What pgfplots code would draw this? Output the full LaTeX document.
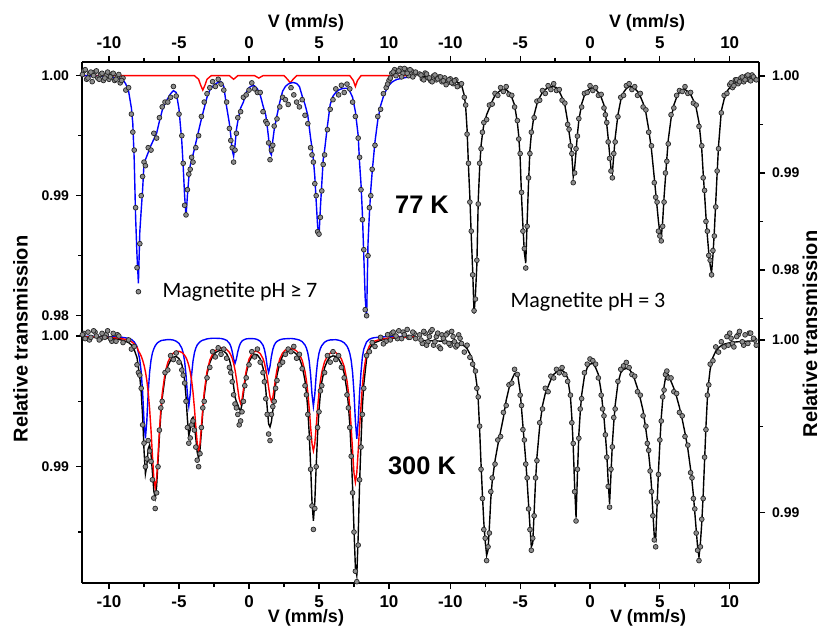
\documentclass[border=0pt]{standalone}
\usepackage{fontspec}
\setmainfont{Liberation Sans}
\newfontfamily\carlito{Carlito}
\usepackage{pgfplots}
\usepackage{pgfplotstable}
\pgfplotsset{compat=1.18}

\pgfplotstableread{
v fit data
-11.8 1.0000 1.0004
-11.6 1.0000 0.9997
-11.4 1.0000 1.0002
-11.2 0.99995 0.9995
-11.0 0.99995 1.0003
-10.8 0.99995 0.9998
-10.6 0.99995 1.0001
-10.4 0.9999 0.9996
-10.2 0.9999 1.0000
-10.0 0.9999 0.9997
-9.8 0.99985 1.0001
-9.6 0.99985 0.9996
-9.4 0.9998 0.9999
-9.2 0.99975 0.9994
-9.0 0.99965 0.9998
-8.8 0.9993 0.9988
-8.6 0.9987 0.9990
-8.4 0.9973 0.9968
-8.3 0.9960 0.9953
-8.2 0.9930 0.9938
-8.1 0.9882 0.9890
-8.0 0.9850 0.9840
-7.9 0.9827 0.9820
-7.8 0.9870 0.9860
-7.7 0.9888 0.9900
-7.6 0.9905 0.9916
-7.5 0.9927 0.9928
-7.4 0.9930 0.9925
-7.2 0.9936 0.9940
-7.0 0.9942 0.9938
-6.8 0.9947 0.9952
-6.6 0.9952 0.9948
-6.4 0.9962 0.9965
-6.2 0.9971 0.9974
-6.0 0.9977 0.9978
-5.8 0.9981 0.9978
-5.6 0.9985 0.9982
-5.4 0.99875 0.9991
-5.2 0.9986 0.9983
-5.0 0.9972 0.9968
-4.8 0.9945 0.9950
-4.7 0.9924 0.9927
-4.6 0.9900 0.9892
-4.5 0.9883 0.9884
-4.4 0.9900 0.9905
-4.3 0.9915 0.9918
-4.2 0.9925 0.9922
-4.1 0.9930 0.9932
-4.0 0.9934 0.9928
-3.8 0.9944 0.9940
-3.6 0.9954 0.9950
-3.4 0.9964 0.9966
-3.2 0.9973 0.9978
-3.0 0.9982 0.9985
-2.8 0.9988 0.9990
-2.6 0.9991 0.9995
-2.4 0.9993 0.9991
-2.2 0.99945 0.9997
-2.0 0.9995 0.9993
-1.8 0.9991 0.9988
-1.6 0.9974 0.9978
-1.4 0.9960 0.9956
-1.3 0.9950 0.9946
-1.2 0.9938 0.9940
-1.1 0.9933 0.9928
-1.0 0.9942 0.9938
-0.9 0.9955 0.9952
-0.8 0.9962 0.9965
-0.6 0.9973 0.9970
-0.4 0.9978 0.9982
-0.2 0.9986 0.9984
0.0 0.9990 0.9988
0.2 0.99915 0.9994
0.4 0.99915 0.9989
0.6 0.9989 0.9986
0.8 0.9984 0.9986
1.0 0.9975 0.9970
1.2 0.9967 0.9962
1.3 0.9958 0.9960
1.4 0.9948 0.9944
1.5 0.9936 0.9930
1.6 0.9934 0.9938
1.7 0.9946 0.9942
1.8 0.9955 0.9958
2.0 0.9967 0.9964
2.2 0.9978 0.9974
2.4 0.9987 0.9982
2.6 0.9991 0.9980
2.8 0.9993 0.9976
3.0 0.9994 0.9990
3.2 0.99942 0.9984
3.4 0.99935 0.9978
3.6 0.9991 0.9974
3.8 0.9983 0.9980
4.0 0.9976 0.9967
4.2 0.9967 0.9960
4.4 0.9948 0.9940
4.5 0.9940 0.9934
4.6 0.9930 0.9928
4.7 0.9916 0.9910
4.8 0.9895 0.9900
4.9 0.9875 0.9870
5.0 0.9866 0.9868
5.1 0.9890 0.9882
5.2 0.9910 0.9904
5.3 0.9930 0.9926
5.4 0.9938 0.9934
5.6 0.9958 0.9955
5.8 0.9976 0.9972
6.0 0.9983 0.9980
6.2 0.9986 0.9989
6.4 0.9988 0.9984
6.6 0.9989 0.9992
6.8 0.99895 0.9986
7.0 0.99895 0.9993
7.2 0.9987 0.9989
7.4 0.9982 0.9978
7.6 0.9970 0.9966
7.8 0.9950 0.9948
7.9 0.9927 0.9932
8.0 0.9910 0.9905
8.1 0.9885 0.9880
8.2 0.9850 0.9855
8.3 0.9815 0.9805
8.4 0.9798 0.9800
8.5 0.9860 0.9850
8.6 0.9885 0.9890
8.7 0.9905 0.9900
8.8 0.9920 0.9922
9.0 0.9945 0.9942
9.2 0.9963 0.9966
9.4 0.9975 0.9972
9.6 0.99825 0.9985
9.8 0.9988 0.9990
10.0 0.9992 0.9996
10.2 0.99945 1.0002
10.4 0.9996 1.0005
10.6 0.9997 1.0003
10.8 0.99975 1.0006
11.0 0.9998 1.0002
11.2 0.99985 1.0005
11.4 0.99985 1.0000
11.6 0.9999 1.0004
11.8 0.9999 1.0001
}\TLtab

\pgfplotstableread{
v data
-11.9 1.0001
-11.7 1.0005
-11.5 0.9998
-11.3 1.0003
-11.1 1.0000
-10.9 1.0004
-10.7 0.9997
-10.5 1.0002
-10.3 0.9998
-10.1 1.0003
-9.9 0.9999
-9.7 1.0002
-9.5 0.9997
-9.3 1.0001
-9.1 0.9996
9.9 0.9993
10.1 0.9998
10.3 1.0003
10.5 1.0000
10.7 1.0004
10.9 0.9999
11.1 1.0006
11.3 1.0002
11.5 1.0005
11.7 0.9999
11.9 1.0003
}\TLextra

\pgfplotstableread{
v fit data
-12.2 0.9999 1.0002
-12.0 0.9999 0.9997
-11.8 0.9999 1.0003
-11.6 0.9999 0.9998
-11.4 0.99985 0.9995
-11.2 0.99985 1.0000
-11.0 0.9998 0.9996
-10.8 0.9998 0.9999
-10.6 0.99975 0.9994
-10.4 0.9997 0.9998
-10.2 0.99965 0.9993
-10.0 0.9996 0.9997
-9.8 0.9995 0.9992
-9.6 0.9994 0.9996
-9.4 0.9993 0.9990
-9.2 0.9991 0.9992
-9.0 0.9980 0.9978
-8.9 0.9968 0.9970
-8.8 0.9945 0.9940
-8.7 0.9907 0.9910
-8.6 0.9875 0.9870
-8.5 0.9835 0.9840
-8.4 0.9800 0.9795
-8.3 0.9755 0.9758
-8.2 0.9775 0.9770
-8.1 0.9805 0.9810
-8.0 0.9872 0.9868
-7.9 0.9905 0.9910
-7.8 0.9928 0.9925
-7.7 0.9940 0.9942
-7.6 0.9950 0.9952
-7.4 0.9960 0.9955
-7.2 0.9967 0.9970
-7.0 0.9974 0.9971
-6.8 0.9980 0.9982
-6.6 0.9983 0.9980
-6.4 0.9985 0.9988
-6.2 0.9986 0.9984
-6.0 0.9986 0.9989
-5.8 0.9983 0.9981
-5.6 0.9978 0.9980
-5.4 0.9970 0.9968
-5.2 0.9952 0.9954
-5.1 0.9938 0.9935
-5.0 0.9915 0.9920
-4.9 0.9875 0.9880
-4.8 0.9845 0.9840
-4.7 0.9818 0.9822
-4.6 0.9807 0.9802
-4.5 0.9850 0.9845
-4.4 0.9890 0.9895
-4.3 0.9924 0.9920
-4.2 0.9940 0.9942
-4.0 0.9960 0.9957
-3.8 0.9971 0.9974
-3.6 0.9978 0.9975
-3.4 0.9983 0.9985
-3.2 0.9986 0.9982
-3.0 0.9988 0.9990
-2.8 0.9989 0.9986
-2.6 0.9989 0.9992
-2.4 0.9988 0.9985
-2.2 0.9984 0.9986
-2.0 0.9978 0.9975
-1.8 0.9970 0.9972
-1.6 0.9953 0.9950
-1.5 0.9942 0.9945
-1.4 0.9932 0.9928
-1.3 0.9918 0.9920
-1.2 0.9896 0.9890
-1.1 0.9905 0.9900
-1.0 0.9922 0.9925
-0.9 0.9940 0.9938
-0.8 0.9954 0.9956
-0.6 0.9971 0.9968
-0.4 0.9980 0.9982
-0.2 0.9985 0.9983
0.0 0.9987 0.9990
0.2 0.99875 0.9985
0.4 0.9986 0.9988
0.6 0.9983 0.9980
0.8 0.9978 0.9981
1.0 0.9970 0.9967
1.1 0.9962 0.9960
1.2 0.9950 0.9952
1.3 0.9936 0.9932
1.4 0.9920 0.9915
1.5 0.9905 0.9902
1.6 0.9900 0.9895
1.7 0.9918 0.9920
1.8 0.9936 0.9932
2.0 0.9960 0.9958
2.2 0.9975 0.9978
2.4 0.9983 0.9980
2.6 0.9987 0.9990
2.8 0.9989 0.9992
3.0 0.9989 0.9986
3.2 0.9987 0.9989
3.4 0.9984 0.9980
3.6 0.9979 0.9982
3.8 0.9972 0.9968
4.0 0.9962 0.9965
4.2 0.9945 0.9942
4.4 0.9924 0.9928
4.6 0.9895 0.9890
4.7 0.9880 0.9875
4.8 0.9865 0.9870
4.9 0.9850 0.9840
5.0 0.9838 0.9835
5.1 0.9833 0.9830
5.2 0.9850 0.9845
5.3 0.9875 0.9870
5.4 0.9895 0.9900
5.5 0.9915 0.9912
5.6 0.9934 0.9930
5.8 0.9956 0.9960
6.0 0.9970 0.9967
6.2 0.9978 0.9980
6.4 0.9983 0.9985
6.6 0.9986 0.9984
6.8 0.9986 0.9989
7.0 0.9984 0.9982
7.2 0.9981 0.9983
7.4 0.9975 0.9972
7.6 0.9967 0.9970
7.8 0.9952 0.9948
8.0 0.9924 0.9928
8.1 0.9900 0.9895
8.2 0.9878 0.9882
8.3 0.9855 0.9850
8.4 0.9835 0.9840
8.5 0.9818 0.9815
8.6 0.9805 0.9810
8.7 0.9797 0.9795
8.8 0.9815 0.9820
8.9 0.9840 0.9835
9.0 0.9870 0.9865
9.1 0.9900 0.9902
9.2 0.9928 0.9925
9.4 0.9964 0.9962
9.6 0.9976 0.9980
9.8 0.9984 0.9982
10.0 0.9988 0.9991
10.2 0.9991 0.9988
10.4 0.9993 0.9996
10.6 0.99945 0.9992
10.8 0.99955 0.9998
11.0 0.99965 0.9994
11.2 0.9997 1.0000
11.4 0.99975 0.9996
11.6 0.9998 1.0001
11.8 0.9998 0.9997
}\TRtab

\pgfplotstableread{
v data
-12.1 1.0001
-11.9 0.9996
-11.7 1.0002
-11.5 0.9998
-11.3 0.9994
-11.1 1.0001
-10.9 0.9997
-10.7 0.9999
-10.5 0.9995
-10.3 0.9991
-10.1 0.9996
-9.9 0.9993
-9.7 0.9995
-9.5 0.9989
10.1 0.9993
10.3 0.9990
10.5 0.9996
10.7 0.9994
10.9 0.9999
11.1 0.9996
11.3 1.0001
11.5 0.9995
11.7 0.9999
11.9 0.9996
}\TRextra

\pgfplotstableread{
v fit red blue data
-11.8 0.99993 0.99995 0.99998 1.0002
-11.4 0.99991 0.99994 0.99997 0.9997
-11.0 0.99990 0.99993 0.99997 1.0003
-10.6 0.99988 0.99992 0.99996 0.9998
-10.2 0.99985 0.99990 0.99995 1.0001
-9.8 0.99982 0.99988 0.99994 0.9996
-9.4 0.99976 0.99984 0.99992 1.0001
-9.0 0.99967 0.99978 0.99989 0.9995
-8.6 0.99950 0.99968 0.99982 0.9997
-8.4 0.99931 0.99957 0.99974 0.9990
-8.2 0.99895 0.99940 0.99955 0.9992
-8.0 0.99835 0.99915 0.99920 0.9978
-7.9 0.99757 0.99886 0.99871 0.9972
-7.8 0.99684 0.99868 0.99816 0.9970
-7.7 0.99570 0.99846 0.99724 0.9960
-7.6 0.99386 0.99816 0.99570 0.9932
-7.5 0.99128 0.99778 0.99350 0.9918
-7.4 0.98945 0.99728 0.99217 0.9900
-7.3 0.99010 0.99661 0.99349 0.9906
-7.2 0.99138 0.99569 0.99569 0.9920
-7.1 0.99167 0.99444 0.99723 0.9912
-7.0 0.99096 0.99281 0.99815 0.9904
-6.9 0.98959 0.99089 0.99870 0.9890
-6.8 0.98815 0.98913 0.99902 0.9876
-6.7 0.98763 0.98838 0.99925 0.9868
-6.6 0.98850 0.98910 0.99940 0.9880
-6.5 0.99036 0.99085 0.99951 0.9900
-6.4 0.99232 0.99274 0.99958 0.9928
-6.3 0.99400 0.99436 0.99964 0.9945
-6.2 0.99526 0.99559 0.99967 0.9950
-6.0 0.99684 0.99714 0.99970 0.9972
-5.8 0.99770 0.99798 0.99973 0.9974
-5.6 0.99815 0.99844 0.99972 0.9985
-5.4 0.99838 0.99869 0.99969 0.9982
-5.2 0.99843 0.99883 0.99960 0.9987
-5.0 0.99827 0.99883 0.99944 0.9980
-4.8 0.99782 0.99875 0.99907 0.9974
-4.7 0.99735 0.99865 0.99870 0.9970
-4.6 0.99659 0.99852 0.99807 0.9964
-4.5 0.99538 0.99835 0.99703 0.9950
-4.4 0.99364 0.99809 0.99555 0.9930
-4.3 0.99238 0.99774 0.99464 0.9918
-4.2 0.99281 0.99726 0.99555 0.9922
-4.1 0.99364 0.99660 0.99704 0.9932
-4.0 0.99378 0.99570 0.99808 0.9935
-3.9 0.99321 0.99450 0.99871 0.9928
-3.8 0.99217 0.99309 0.99908 0.9915
-3.7 0.99111 0.99180 0.99931 0.9905
-3.6 0.99066 0.99121 0.99945 0.9900
-3.5 0.99132 0.99176 0.99956 0.9910
-3.4 0.99269 0.99306 0.99963 0.9930
-3.3 0.99416 0.99448 0.99968 0.9945
-3.2 0.99541 0.99570 0.99971 0.9950
-3.0 0.99707 0.99729 0.99978 0.9968
-2.8 0.99796 0.99815 0.99981 0.9976
-2.6 0.99845 0.99862 0.99983 0.9988
-2.4 0.99872 0.99889 0.99983 0.9984
-2.2 0.99885 0.99903 0.99982 0.9991
-2.0 0.99890 0.99909 0.99981 0.9986
-1.8 0.99883 0.99907 0.99976 0.9990
-1.6 0.99865 0.99898 0.99967 0.9983
-1.4 0.99820 0.99875 0.99945 0.9976
-1.3 0.99776 0.99855 0.99921 0.9972
-1.2 0.99711 0.99829 0.99882 0.9965
-1.1 0.99617 0.99792 0.99825 0.9955
-1.0 0.99532 0.99741 0.99791 0.9948
-0.9 0.99499 0.99674 0.99825 0.9945
-0.8 0.99474 0.99594 0.99880 0.9940
-0.7 0.99441 0.99521 0.99920 0.9932
-0.6 0.99431 0.99484 0.99947 0.9935
-0.5 0.99476 0.99515 0.99961 0.9942
-0.4 0.99557 0.99588 0.99969 0.9950
-0.3 0.99641 0.99667 0.99974 0.9962
-0.2 0.99712 0.99734 0.99978 0.9968
0.0 0.99802 0.99822 0.99980 0.9978
0.2 0.99844 0.99864 0.99980 0.9988
0.4 0.99861 0.99882 0.99979 0.9984
0.6 0.99855 0.99882 0.99973 0.9990
0.8 0.99826 0.99866 0.99960 0.9980
1.0 0.99757 0.99827 0.99930 0.9972
1.1 0.99692 0.99794 0.99898 0.9965
1.2 0.99590 0.99745 0.99845 0.9952
1.3 0.99451 0.99682 0.99769 0.9940
1.4 0.99328 0.99606 0.99722 0.9925
1.5 0.99304 0.99536 0.99768 0.9920
1.6 0.99344 0.99500 0.99844 0.9940
1.7 0.99427 0.99530 0.99897 0.9946
1.8 0.99529 0.99600 0.99929 0.9950
1.9 0.99626 0.99678 0.99948 0.9960
2.0 0.99701 0.99742 0.99959 0.9966
2.2 0.99796 0.99825 0.99971 0.9978
2.4 0.99847 0.99870 0.99977 0.9980
2.6 0.99872 0.99893 0.99979 0.9986
2.8 0.99882 0.99902 0.99980 0.9990
3.0 0.99885 0.99904 0.99981 0.9988
3.2 0.99878 0.99899 0.99979 0.9992
3.4 0.99860 0.99885 0.99975 0.9983
3.6 0.99829 0.99860 0.99969 0.9986
3.8 0.99770 0.99814 0.99957 0.9975
4.0 0.99659 0.99729 0.99931 0.9962
4.1 0.99568 0.99660 0.99908 0.9955
4.2 0.99440 0.99569 0.99871 0.9940
4.3 0.99256 0.99448 0.99808 0.9922
4.4 0.99010 0.99306 0.99704 0.9898
4.5 0.98731 0.99177 0.99554 0.9870
4.6 0.98585 0.99122 0.99463 0.9852
4.7 0.98730 0.99176 0.99554 0.9868
4.8 0.99006 0.99304 0.99702 0.9900
4.9 0.99252 0.99446 0.99806 0.9930
5.0 0.99433 0.99565 0.99868 0.9942
5.1 0.99561 0.99656 0.99905 0.9958
5.2 0.99650 0.99723 0.99927 0.9962
5.4 0.99757 0.99804 0.99953 0.9972
5.6 0.99812 0.99847 0.99965 0.9985
5.8 0.99839 0.99869 0.99970 0.9980
6.0 0.99848 0.99877 0.99971 0.9988
6.2 0.99844 0.99873 0.99972 0.9982
6.4 0.99824 0.99857 0.99968 0.9985
6.6 0.99786 0.99825 0.99961 0.9976
6.8 0.99715 0.99767 0.99948 0.9968
7.0 0.99581 0.99658 0.99923 0.9955
7.1 0.99472 0.99572 0.99900 0.9945
7.2 0.99323 0.99455 0.99867 0.9930
7.3 0.99113 0.99300 0.99813 0.9908
7.4 0.98838 0.99118 0.99720 0.9880
7.5 0.98518 0.98951 0.99567 0.9850
7.6 0.98228 0.98881 0.99347 0.9820
7.7 0.98167 0.98953 0.99214 0.9812
7.8 0.98468 0.99121 0.99347 0.9840
7.9 0.98873 0.99305 0.99568 0.9890
8.0 0.99185 0.99463 0.99722 0.9915
8.1 0.99460 0.99620 0.99840 0.9940
8.2 0.99630 0.99730 0.99900 0.9960
8.4 0.99825 0.99870 0.99955 0.9985
8.6 0.99900 0.99925 0.99975 0.9988
8.8 0.99934 0.99950 0.99984 0.9995
9.0 0.99950 0.99962 0.99988 0.9992
9.4 0.99967 0.99975 0.99992 0.9999
9.8 0.99977 0.99982 0.99995 0.9996
10.2 0.99982 0.99986 0.99996 1.0002
10.6 0.99985 0.99989 0.99996 0.9998
11.0 0.99988 0.99991 0.99997 1.0003
11.4 0.99990 0.99993 0.99997 0.9999
11.8 0.99992 0.99994 0.99998 1.0002
}\BLtab

\pgfplotstableread{
v data
-11.9 1.0001
-11.7 0.9998
-11.5 1.0003
-11.3 0.9999
-11.1 1.0004
-10.9 1.0000
-10.7 0.9997
-10.5 1.0002
-10.3 0.9999
-10.1 1.0004
-9.9 0.9998
-9.7 1.0002
-9.5 0.9996
-9.3 1.0000
9.6 0.9994
9.9 1.0001
10.1 0.9997
10.3 1.0003
10.5 1.0000
10.7 1.0004
10.9 0.9998
11.1 1.0001
11.3 1.0005
11.5 0.9999
11.7 1.0003
11.9 0.9998
}\BLextra

\pgfplotstableread{
v fit data
-12.2 0.99997 1.0003
-12.0 0.99997 0.9998
-11.8 0.99997 1.0004
-11.6 0.99996 0.9999
-11.4 0.99996 1.0005
-11.2 0.99995 0.9997
-11.0 0.99995 1.0002
-10.8 0.99994 0.9996
-10.6 0.99994 1.0003
-10.4 0.99993 0.9999
-10.2 0.99992 1.0004
-10.0 0.99990 0.9997
-9.8 0.99988 1.0002
-9.6 0.99984 0.9996
-9.4 0.99980 1.0003
-9.2 0.99975 0.9998
-9.0 0.99965 0.9993
-8.8 0.99950 0.9997
-8.6 0.99920 0.9990
-8.4 0.99880 0.9986
-8.2 0.99800 0.9982
-8.1 0.99740 0.9972
-8.0 0.99650 0.9967
-7.9 0.99480 0.9950
-7.8 0.99280 0.9925
-7.7 0.99100 0.9908
-7.6 0.98940 0.9890
-7.5 0.98830 0.9885
-7.4 0.98750 0.9872
-7.3 0.98780 0.9880
-7.2 0.98920 0.9888
-7.1 0.99080 0.9912
-7.0 0.99180 0.9920
-6.8 0.99300 0.9928
-6.6 0.99390 0.9942
-6.4 0.99470 0.9944
-6.2 0.99550 0.9958
-6.0 0.99650 0.9962
-5.8 0.99720 0.9974
-5.6 0.99770 0.9975
-5.4 0.99805 0.9983
-5.2 0.99810 0.9980
-5.0 0.99700 0.9968
-4.9 0.99600 0.9962
-4.8 0.99500 0.9948
-4.7 0.99400 0.9942
-4.6 0.99300 0.9928
-4.5 0.99180 0.9920
-4.4 0.99050 0.9902
-4.3 0.98920 0.9890
-4.2 0.98800 0.9878
-4.1 0.98820 0.9885
-4.0 0.99000 0.9898
-3.9 0.99180 0.9920
-3.8 0.99320 0.9930
-3.6 0.99500 0.9952
-3.4 0.99620 0.9960
-3.2 0.99690 0.9972
-3.0 0.99730 0.9970
-2.8 0.99770 0.9979
-2.6 0.99800 0.9978
-2.4 0.99815 0.9983
-2.2 0.99825 0.9981
-2.0 0.99825 0.9984
-1.8 0.99810 0.9980
-1.6 0.99780 0.9976
-1.4 0.99670 0.9968
-1.3 0.99550 0.9952
-1.2 0.99380 0.9940
-1.1 0.99150 0.9912
-1.0 0.98970 0.9895
-0.9 0.99220 0.9925
-0.8 0.99450 0.9943
-0.7 0.99580 0.9960
-0.6 0.99680 0.9966
-0.4 0.99790 0.9981
-0.2 0.99840 0.9986
0.0 0.99860 0.9989
0.2 0.99865 0.9988
0.4 0.99840 0.9986
0.6 0.99800 0.9978
0.8 0.99700 0.9968
0.9 0.99620 0.9960
1.0 0.99550 0.9956
1.1 0.99450 0.9945
1.2 0.99340 0.9932
1.3 0.99180 0.9915
1.4 0.99050 0.9903
1.5 0.99220 0.9925
1.6 0.99400 0.9938
1.7 0.99520 0.9955
1.8 0.99620 0.9960
2.0 0.99750 0.9976
2.2 0.99810 0.9983
2.4 0.99830 0.9985
2.6 0.99835 0.9987
2.8 0.99830 0.9984
3.0 0.99810 0.9980
3.2 0.99770 0.9979
3.4 0.99720 0.9970
3.6 0.99660 0.9968
3.8 0.99590 0.9956
4.0 0.99480 0.9950
4.1 0.99420 0.9940
4.2 0.99340 0.9936
4.3 0.99260 0.9924
4.4 0.99150 0.9912
4.5 0.99000 0.9898
4.6 0.98860 0.9884
4.7 0.98840 0.9880
4.8 0.99040 0.9906
4.9 0.99240 0.9922
5.0 0.99400 0.9942
5.1 0.99550 0.9953
5.2 0.99650 0.9967
5.3 0.99730 0.9971
5.4 0.99780 0.9980
5.5 0.99805 0.9982
5.6 0.99800 0.9978
5.8 0.99760 0.9978
6.0 0.99720 0.9970
6.2 0.99670 0.9969
6.4 0.99610 0.9958
6.6 0.99540 0.9956
6.8 0.99460 0.9944
7.0 0.99370 0.9939
7.2 0.99250 0.9923
7.3 0.99180 0.9920
7.4 0.99100 0.9908
7.5 0.99000 0.9902
7.6 0.98900 0.9888
7.7 0.98800 0.9878
7.8 0.98740 0.9872
7.9 0.98820 0.9880
8.0 0.98940 0.9896
8.1 0.99100 0.9908
8.2 0.99300 0.9932
8.3 0.99500 0.9948
8.4 0.99660 0.9968
8.5 0.99760 0.9974
8.6 0.99830 0.9986
8.8 0.99900 0.9988
9.0 0.99935 0.9996
9.2 0.99955 0.9993
9.4 0.99968 0.9999
9.6 0.99976 0.9996
9.8 0.99980 1.0002
10.2 0.99987 0.9998
10.6 0.99990 1.0003
11.0 0.99992 0.9997
11.4 0.99994 1.0004
11.8 0.99995 1.0000
}\BRtab

\pgfplotstableread{
v data
-12.1 1.0000
-11.9 1.0005
-11.7 0.9997
-11.5 1.0002
-11.3 1.0006
-11.1 0.9999
-10.9 1.0004
-10.7 0.9995
-10.5 1.0001
-10.3 1.0003
-10.1 0.9998
-9.9 1.0005
-9.7 0.9999
-9.5 0.9997
-9.3 1.0001
9.9 0.9997
10.0 1.0004
10.1 1.0001
10.3 0.9996
10.5 1.0002
10.7 1.0005
10.9 0.9999
11.1 1.0003
11.3 0.9998
11.5 1.0004
11.7 1.0001
11.9 0.9997
}\BRextra

\pgfplotsset{
  panel/.style={
    scale only axis,
    axis line style={-, line width=0.65pt, black},
    every tick/.style={line width=0.6pt, black},
    tick align=outside,
    major tick length=3pt,
    minor tick length=2pt,
    xtick={-10,-5,0,5,10},
    xticklabels={-10,-5,0,5,10},
    minor xtick={-7.5,-2.5,2.5,7.5},
    xticklabel style={font=\bfseries\fontsize{8.5}{9}\selectfont},
    yticklabel style={font=\bfseries\fontsize{7}{8}\selectfont},
    clip=false,
  },
  dots/.style={only marks, mark=*, mark size=1.2pt,
    mark options={fill=black!45, draw=black!85, line width=0.35pt}},
  fitline/.style={no marks, line width=0.7pt},
}

\begin{document}
\begin{tikzpicture}
\path[use as bounding box] (0,0) rectangle (411pt,315pt);

% top-left: 77 K, pH >= 7
\begin{axis}[panel,
  at={(41pt,153pt)}, anchor=south west,
  width=167pt, height=131pt,
  xmin=-11.93, xmax=11.93,
  ymin=0.97931, ymax=1.00114,
  axis x line*=top, axis y line*=left,
  ytick={0.98,0.99,1.00}, yticklabels={0.98,0.99,1.00},
  minor ytick={0.985,0.995}]
\addplot[dots] table[x=v,y=data]{\TLtab};
\addplot[dots] table[x=v,y=data]{\TLextra};
\addplot[fitline, red] coordinates {(-11.9,1.0000) (-3.9,1.0000) (-3.6,0.9997) (-3.45,0.9992) (-3.3,0.9988) (-3.15,0.9992) (-3.0,0.9997) (-2.7,1.0000) (-1.4,1.0000) (-1.1,0.9997) (-0.8,1.0000) (0.4,1.0000) (0.7,0.9998) (1.0,1.0000) (2.5,1.0000) (2.75,0.9997) (2.95,0.9994) (3.15,0.9997) (3.4,1.0000) (7.2,1.0000) (7.45,0.9996) (7.6,0.9991) (7.75,0.9996) (8.0,1.0000) (11.9,1.0000)};
\addplot[fitline, blue] table[x=v,y=fit]{\TLtab};
\end{axis}

% top-right: 77 K, pH = 3
\begin{axis}[panel,
  at={(208pt,153pt)}, anchor=south west,
  width=171.5pt, height=131pt,
  xmin=-12.455, xmax=12.097,
  ymin=0.97443, ymax=1.00144,
  axis x line*=top, axis y line*=right,
  ytick={0.98,0.99,1.00}, yticklabels={0.98,0.99,1.00},
  minor ytick={0.975,0.985,0.995}]
\addplot[dots] table[x=v,y=data]{\TRtab};
\addplot[dots] table[x=v,y=data]{\TRextra};
\addplot[fitline, black] table[x=v,y=fit]{\TRtab};
\end{axis}

% bottom-left: 300 K, pH >= 7
\begin{axis}[panel,
  at={(41pt,23.5pt)}, anchor=south west,
  width=167pt, height=129.5pt,
  xmin=-11.93, xmax=11.93,
  ymin=0.98110, ymax=1.00092,
  axis x line*=bottom, axis y line*=left,
  ytick={0.99,1.00}, yticklabels={0.99,1.00},
  minor ytick={0.985,0.995}]
\addplot[dots] table[x=v,y=data]{\BLtab};
\addplot[dots] table[x=v,y=data]{\BLextra};
\addplot[fitline, black] table[x=v,y=fit]{\BLtab};
\addplot[fitline, blue] table[x=v,y=blue]{\BLtab};
\addplot[fitline, red] table[x=v,y=red]{\BLtab};
\end{axis}

% bottom-right: 300 K, pH = 3
\begin{axis}[panel,
  at={(208pt,23.5pt)}, anchor=south west,
  width=171.5pt, height=129.5pt,
  xmin=-12.455, xmax=12.097,
  ymin=0.98590, ymax=1.00093,
  axis x line*=bottom, axis y line*=right,
  ytick={0.99,1.00}, yticklabels={0.99,1.00},
  minor ytick={0.995}]
\addplot[dots] table[x=v,y=data]{\BRtab};
\addplot[dots] table[x=v,y=data]{\BRextra};
\addplot[fitline, black] table[x=v,y=fit]{\BRtab};
\end{axis}

\node[font=\bfseries\fontsize{9}{10}\selectfont] at (153pt,303.5pt) {V (mm/s)};
\node[font=\bfseries\fontsize{9}{10}\selectfont] at (323.5pt,303.5pt) {V (mm/s)};
\node[font=\bfseries\fontsize{9}{10}\selectfont] at (153pt,6pt) {V (mm/s)};
\node[font=\bfseries\fontsize{9}{10}\selectfont] at (324pt,6pt) {V (mm/s)};
\node[font=\bfseries\fontsize{10}{11}\selectfont, rotate=90] at (10.25pt,145.5pt) {Relative transmission};
\node[font=\bfseries\fontsize{10}{11}\selectfont, rotate=90, inner sep=0pt] at (405pt,148pt) {Relative transmission};
\node[font=\bfseries\fontsize{12.7}{14}\selectfont] at (211pt,212.5pt) {77 K};
\node[font=\bfseries\fontsize{12.7}{14}\selectfont] at (211pt,82pt) {300 K};
\node[font=\carlito\fontsize{11}{12}\selectfont] at (120pt,169pt) {Magnetite pH ≥ 7};
\node[font=\carlito\fontsize{11}{12}\selectfont] at (294pt,164pt) {Magnetite pH = 3};
\end{tikzpicture}
\end{document}
